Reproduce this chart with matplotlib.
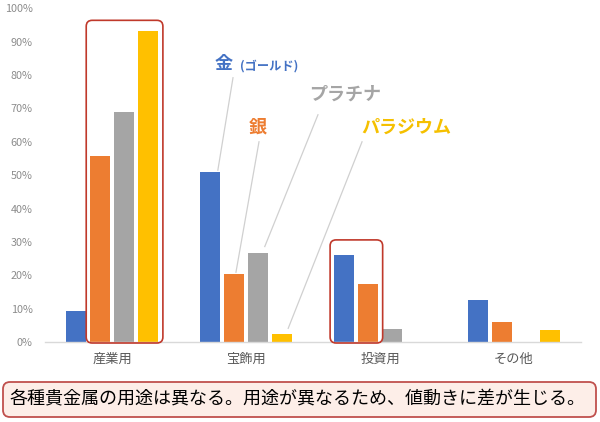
import matplotlib
matplotlib.use("Agg")
import matplotlib.pyplot as plt
import numpy as np
from matplotlib.patches import FancyBboxPatch
from matplotlib.transforms import IdentityTransform

plt.rcParams['font.family'] = ['Noto Sans CJK JP', 'DejaVu Sans']

categories = ["産業用", "宝飾用", "投資用", "その他"]
series_names = ["金", "銀", "プラチナ", "パラジウム"]
gold = [0.094, 0.51, 0.261, 0.126]
silver = [0.557, 0.203, 0.174, 0.059]
platinum = [0.688, 0.268, 0.039, 0.0]
palladium = [0.931, 0.023, 0.0, 0.036]
yticks = [0, 0.1, 0.2, 0.3, 0.4, 0.5, 0.6, 0.7, 0.8, 0.9, 1.0]
ytick_labels = ["0%", "10%", "20%", "30%", "40%", "50%", "60%", "70%", "80%", "90%", "100%"]
note = "各種貴金属の用途は異なる。用途が異なるため、値動きに差が生じる。"

colors = ["#4472C4", "#ED7D31", "#A5A5A5", "#FFC000"]
label_colors = ["#4472C4", "#ED7D31", "#A5A5A5", "#F5C000"]
data = [gold, silver, platinum, palladium]

W, H = 600, 422
fig = plt.figure(figsize=(W / 100, H / 100), dpi=100)
ax = fig.add_axes([45 / W, 1 - 342 / H, 536 / W, (342 - 8.3) / H])

x = np.arange(len(categories))
step = 0.18
bw = 0.145
offsets = (np.arange(4) - 1.5) * step
for i, (vals, c) in enumerate(zip(data, colors)):
    ax.bar(x + offsets[i], vals, width=bw, color=c, zorder=2)

ax.set_xlim(-0.5, len(categories) - 0.5)
ax.set_ylim(0, 1.0)
ax.set_yticks(yticks)
ax.set_yticklabels(ytick_labels, fontsize=7.8, color="#8C8C8C")
ax.set_xticks(x)
ax.set_xticklabels(categories, fontsize=9.5, color="#595959")
ax.tick_params(axis="both", length=0)
ax.tick_params(axis="x", pad=8)
ax.tick_params(axis="y", pad=9)
for s in ["top", "right", "left"]:
    ax.spines[s].set_visible(False)
ax.spines["bottom"].set_color("#D9D9D9")
ax.spines["bottom"].set_linewidth(1.0)


def to_px(xd, yd):
    return ax.transData.transform((xd, yd))


def red_box(cat, first, last, top_pad_px):
    x0 = cat + offsets[first] - bw / 2
    x1 = cat + offsets[last] + bw / 2
    ymax = max(data[k][cat] for k in range(first, last + 1))
    (px0, py0) = to_px(x0, 0)
    (px1, py1) = to_px(x1, ymax)
    px0 -= 4
    px1 += 5
    py0 -= 1
    py1 += top_pad_px
    p = FancyBboxPatch((px0, py0), px1 - px0, py1 - py0,
                       boxstyle="round,pad=0,rounding_size=6",
                       transform=IdentityTransform(), fill=False,
                       edgecolor="#C0392B", linewidth=1.2, zorder=3)
    fig.add_artist(p)


red_box(0, 1, 3, 11)
red_box(2, 0, 1, 15)

# leader lines: start near the label (data coords), end near the bar top
label_specs = [
    # series idx, category, line start (data), end dx, end dy
    (0, 1, (0.903, 0.792), 0.06, 0.005),
    (1, 1, (1.097, 0.600), 0.015, 0.006),
    (2, 1, (1.537, 0.681), 0.05, 0.018),
    (3, 1, (1.866, 0.600), 0.045, 0.018),
]
for si, cat, lstart, dx, dy in label_specs:
    xe = cat + offsets[si] + dx
    ye = data[si][cat] + dy
    ax.plot([lstart[0], xe], [lstart[1], ye], color="#D0D0D0", lw=0.9, zorder=1)

ax.text(0.836, 0.834, "金", color=label_colors[0], fontsize=13, fontweight="bold",
        ha="center", va="center")
ax.text(0.955, 0.827, "(ゴールド)", color=label_colors[0], fontsize=8.8, fontweight="bold",
        ha="left", va="center")
ax.text(1.09, 0.644, "銀", color=label_colors[1], fontsize=13, fontweight="bold",
        ha="center", va="center")
ax.text(1.739, 0.744, "プラチナ", color=label_colors[2], fontsize=13, fontweight="bold",
        ha="center", va="center")
ax.text(2.20, 0.644, "パラジウム", color=label_colors[3], fontsize=13, fontweight="bold",
        ha="center", va="center")

# bottom note box
nb = FancyBboxPatch((3, 5), 593, 35, boxstyle="round,pad=0,rounding_size=7",
                    transform=IdentityTransform(), facecolor="#FDEEE8",
                    edgecolor="#C0504D", linewidth=1.3, zorder=3)
fig.add_artist(nb)
fig.text(298 / W, 22.5 / H, note, fontsize=13.0, color="#000000",
         ha="center", va="center", zorder=4)

fig.savefig("out.png", dpi=100)
